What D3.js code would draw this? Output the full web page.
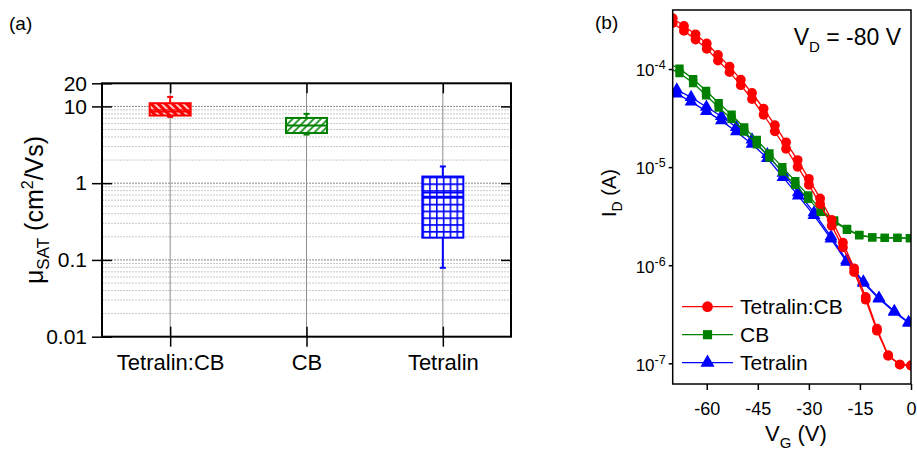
<!DOCTYPE html>
<html>
<head>
<meta charset="utf-8">
<script src="https://cdn.jsdelivr.net/npm/d3@7"></script>
<style>
  body { margin: 0; background: #fff; }
  svg { font-family: "Liberation Sans", Arial, sans-serif; }
</style>
</head>
<body>
<script>
// panel (a): mobility box chart
var groups = ['Tetralin:CB', 'CB', 'Tetralin'];
var groupColors = ['#ff0000', '#008000', '#0000ff'];
var boxLow = [7.6, 4.5, 0.195];
var boxHigh = [11, 7.07, 1.22];
var whiskerLow = [7.3, 4.3, 0.079];
var whiskerHigh = [13.3, 8.0, 1.65];
var medians = [8.5, 5.7, 0.75];
var means = [9.0, 5.6, 0.67];
var muTicks = [0.01, 0.1, 1, 10, 20];
var muTickLabels = ['0.01', '0.1', '1', '10', '20'];

// panel (b): transfer curves (two sweeps each)
var vgRed = [-70, -66.7, -63.3, -60, -56.7, -53.3, -50, -46.7, -43.3, -40, -36.7, -33.3, -30, -26.7, -23.3, -20, -16.7, -13.3, -10, -6.7, -3.3, 0];
var idRedA = [2.95e-4, 2.45e-4, 2.0e-4, 1.61e-4, 1.22e-4, 9.3e-5, 6.85e-5, 4.95e-5, 3.42e-5, 2.32e-5, 1.54e-5, 1.01e-5, 6.6e-6, 4.2e-6, 2.53e-6, 1.52e-6, 8.5e-7, 4.45e-7, 2.15e-7, 1.19e-7, 9.7e-8, 9.5e-8];
var idRedB = [3.3e-4, 2.75e-4, 2.26e-4, 1.82e-4, 1.39e-4, 1.06e-4, 7.8e-5, 5.7e-5, 3.95e-5, 2.68e-5, 1.79e-5, 1.18e-5, 7.6e-6, 4.8e-6, 2.9e-6, 1.7e-6, 9.3e-7, 4.75e-7, 2.25e-7, 1.21e-7, 9.7e-8, 9.5e-8];
var vgCB = [-71.7, -68, -64, -60.2, -56.5, -52.7, -49, -45.3, -41.6, -37.8, -34, -30.2, -26.5, -22.6, -18.8, -15.2, -11.4, -7.7, -4, -0.3];
var idCBA = [1.05e-4, 9.1e-5, 7.2e-5, 5.4e-5, 4.05e-5, 3.1e-5, 2.3e-5, 1.71e-5, 1.25e-5, 9.0e-6, 6.6e-6, 4.75e-6, 3.5e-6, 2.78e-6, 2.3e-6, 2.02e-6, 1.92e-6, 1.9e-6, 1.9e-6, 1.89e-6];
var idCBB = [1.16e-4, 1.01e-4, 7.9e-5, 6.0e-5, 4.5e-5, 3.42e-5, 2.54e-5, 1.89e-5, 1.38e-5, 1.0e-5, 7.2e-6, 5.15e-6, 3.7e-6, 2.86e-6, 2.34e-6, 2.04e-6, 1.92e-6, 1.9e-6, 1.9e-6, 1.89e-6];
var vgTet = [-68.8, -64.6, -60.1, -55.7, -51.3, -46.7, -42.2, -37.6, -33.1, -28.5, -23.5, -18.9, -14, -9.4, -4.9, -0.7];
var idTetA = [5.6e-5, 4.65e-5, 3.7e-5, 2.98e-5, 2.3e-5, 1.72e-5, 1.23e-5, 7.9e-6, 5.1e-6, 3.22e-6, 1.86e-6, 1.08e-6, 6.6e-7, 4.55e-7, 3.33e-7, 2.58e-7];
var idTetB = [6.15e-5, 5.15e-5, 4.1e-5, 3.3e-5, 2.55e-5, 1.9e-5, 1.35e-5, 8.7e-6, 5.5e-6, 3.44e-6, 1.96e-6, 1.12e-6, 6.8e-7, 4.65e-7, 3.4e-7, 2.62e-7];
var vgTicks = [-60, -45, -30, -15, 0];
var idTicks = [1e-7, 1e-6, 1e-5, 1e-4];
var idTickExp = ['-7', '-6', '-5', '-4'];
var legendNames = ['Tetralin:CB', 'CB', 'Tetralin'];

var svg = d3.select('body').append('svg').attr('width', 917).attr('height', 453);
var defs = svg.append('defs');

// ---------- panel (a) ----------
var A = { left: 102, right: 511, top: 83.3, bottom: 336.7 };
var xa = d3.scalePoint().domain(groups).range([A.left, A.right]).padding(0.5);
var ya = d3.scaleLog().domain([0.01, 20]).range([A.bottom, A.top]);
var boxW = 41;

// fill patterns
var pRed = defs.append('pattern').attr('id', 'hatchRed')
  .attr('patternUnits', 'userSpaceOnUse').attr('width', 5).attr('height', 5)
  .attr('patternTransform', 'rotate(-45)');
pRed.append('rect').attr('width', 5).attr('height', 5).attr('fill', '#ff0000');
pRed.append('line').attr('x1', 1).attr('x2', 1).attr('y1', 0).attr('y2', 5)
  .attr('stroke', '#fff').attr('stroke-width', 1.6);

var pGreen = defs.append('pattern').attr('id', 'hatchGreen')
  .attr('patternUnits', 'userSpaceOnUse').attr('width', 5).attr('height', 5)
  .attr('patternTransform', 'rotate(45)');
pGreen.append('rect').attr('width', 5).attr('height', 5).attr('fill', '#fff');
pGreen.append('line').attr('x1', 1).attr('x2', 1).attr('y1', 0).attr('y2', 5)
  .attr('stroke', '#008000').attr('stroke-width', 1.6);

var gridX0 = xa('Tetralin') - boxW / 2;
var gridY0 = ya(boxHigh[2]);
var pBlue = defs.append('pattern').attr('id', 'gridBlue')
  .attr('patternUnits', 'userSpaceOnUse').attr('width', 6.83).attr('height', 6.8)
  .attr('x', gridX0).attr('y', gridY0);
pBlue.append('rect').attr('width', 6.83).attr('height', 6.8).attr('fill', '#fff');
pBlue.append('path').attr('d', 'M0,0V6.8M0,0H6.83').attr('stroke', '#0000ff').attr('stroke-width', 3.2).attr('fill', 'none');
var fills = ['url(#hatchRed)', 'url(#hatchGreen)', 'url(#gridBlue)'];

var ga = svg.append('g');

// horizontal dotted grid
ga.selectAll('line.grid').data(ya.ticks().filter(d => d > 0.01 && d < 20))
  .enter().append('line').attr('class', 'grid')
    .attr('x1', A.left).attr('x2', A.right)
    .attr('y1', d => ya(d)).attr('y2', d => ya(d))
    .attr('stroke', d => Number.isInteger(Math.round(Math.log10(d) * 1000) / 1000) ? '#8a8a8a' : '#c8c8c8')
    .attr('stroke-width', 1)
    .attr('stroke-dasharray', '2,1');

// vertical category lines
ga.selectAll('line.vcat').data(groups).enter().append('line').attr('class', 'vcat')
  .attr('x1', d => xa(d)).attr('x2', d => xa(d))
  .attr('y1', A.top).attr('y2', A.bottom)
  .attr('stroke', '#8c8c8c').attr('stroke-width', 1);

// boxes
groups.forEach((g, i) => {
  var cx = xa(g), c = groupColors[i];
  ga.append('line').attr('x1', cx).attr('x2', cx)
    .attr('y1', ya(whiskerHigh[i])).attr('y2', ya(whiskerLow[i]))
    .attr('stroke', c).attr('stroke-width', 2);
  [whiskerHigh[i], whiskerLow[i]].forEach(v => {
    ga.append('line').attr('x1', cx - 3).attr('x2', cx + 3)
      .attr('y1', ya(v)).attr('y2', ya(v))
      .attr('stroke', c).attr('stroke-width', 2);
  });
  ga.append('rect')
    .attr('x', cx - boxW / 2).attr('width', boxW)
    .attr('y', ya(boxHigh[i])).attr('height', ya(boxLow[i]) - ya(boxHigh[i]))
    .attr('fill', fills[i]).attr('stroke', c).attr('stroke-width', 2);
  [medians[i], means[i]].forEach(v => {
    ga.append('line').attr('x1', cx - boxW / 2).attr('x2', cx + boxW / 2)
      .attr('y1', ya(v)).attr('y2', ya(v))
      .attr('stroke', c).attr('stroke-width', 1.5);
  });
});

// axes (a)
var leftA = ga.append('g').attr('transform', 'translate(' + A.left + ',0)')
  .call(d3.axisLeft(ya).tickValues(muTicks).tickFormat((d, i) => muTickLabels[i]).tickSize(10).tickPadding(5));
leftA.selectAll('.tick line').attr('x1', 10).attr('stroke-width', 1.5);
leftA.selectAll('.tick text').attr('font-size', 21).attr('fill', '#000');
leftA.select('.domain').remove();

var rightA = ga.append('g').attr('transform', 'translate(' + A.right + ',0)')
  .call(d3.axisRight(ya).tickValues([0.1, 1, 10]).tickFormat('').tickSize(-10));
rightA.selectAll('.tick line').attr('stroke-width', 1.5);
rightA.select('.domain').remove();

var topA = ga.append('g').attr('transform', 'translate(0,' + A.top + ')')
  .call(d3.axisTop(xa).tickFormat('').tickSize(-10));
topA.selectAll('.tick line').attr('stroke-width', 1.5);
topA.select('.domain').remove();

var botA = ga.append('g').attr('transform', 'translate(0,' + A.bottom + ')')
  .call(d3.axisBottom(xa).tickSize(10).tickPadding(8));
botA.selectAll('.tick line').attr('y1', -10).attr('stroke-width', 1.5);
botA.selectAll('.tick text').attr('font-size', 22).attr('fill', '#000');
botA.select('.domain').remove();

ga.append('rect').attr('x', A.left).attr('y', A.top)
  .attr('width', A.right - A.left).attr('height', A.bottom - A.top)
  .attr('fill', 'none').attr('stroke', '#000').attr('stroke-width', 2);

var yLabA = ga.append('text')
  .attr('transform', 'translate(43,' + (A.top + A.bottom) / 2 + ') rotate(-90)')
  .attr('text-anchor', 'middle').attr('font-size', 25).attr('fill', '#000');
yLabA.append('tspan').text('\u03bc');
yLabA.append('tspan').attr('font-size', 17).attr('dy', 6).text('SAT');
yLabA.append('tspan').attr('dy', -6).text(' (cm');
yLabA.append('tspan').attr('font-size', 16).attr('dy', -10).text('2');
yLabA.append('tspan').attr('dy', 10).text('/Vs)');

svg.append('text').attr('x', 9).attr('y', 30).attr('font-size', 19).text('(a)');

// ---------- panel (b) ----------
var B = { left: 672.7, right: 911, top: 10, bottom: 384 };
var xb = d3.scaleLinear().domain([-70, 0]).range([B.left, B.right]);
var yb = d3.scaleLog().domain([6.15e-8, 4e-4]).range([B.bottom, B.top]);

defs.append('clipPath').attr('id', 'clipB').append('rect')
  .attr('x', B.left).attr('y', B.top).attr('width', B.right - B.left).attr('height', B.bottom - B.top);

var gb = svg.append('g');
var plotB = gb.append('g').attr('clip-path', 'url(#clipB)');
var line = d3.line().x(d => xb(d[0])).y(d => yb(d[1]));

var series = [
  { vg: vgTet, sweeps: [idTetA, idTetB], color: '#0000ff', symbol: d3.symbolTriangle, size: 72 },
  { vg: vgCB, sweeps: [idCBA, idCBB], color: '#008000', symbol: d3.symbolSquare, size: 70 },
  { vg: vgRed, sweeps: [idRedA, idRedB], color: '#ff0000', symbol: d3.symbolCircle, size: 76 }
];

series.forEach(s => {
  s.sweeps.forEach(ids => {
    var pts = s.vg.map((v, i) => [v, ids[i]]);
    plotB.append('path').datum(pts).attr('d', line)
      .attr('fill', 'none').attr('stroke', s.color).attr('stroke-width', 1.3);
    plotB.selectAll(null).data(pts).enter().append('path')
      .attr('d', d3.symbol().type(s.symbol).size(s.size))
      .attr('transform', d => 'translate(' + xb(d[0]) + ',' + yb(d[1]) + ')')
      .attr('fill', s.color);
  });
});

var botB = gb.append('g').attr('transform', 'translate(0,' + B.bottom + ')')
  .call(d3.axisBottom(xb).tickValues(vgTicks).tickFormat(d => String(d)).tickSize(6).tickPadding(12));
botB.selectAll('.tick line').attr('stroke-width', 1.5);
botB.selectAll('.tick text').attr('font-size', 18).attr('fill', '#000');
botB.select('.domain').remove();

var leftB = gb.append('g').attr('transform', 'translate(' + B.left + ',0)')
  .call(d3.axisLeft(yb).tickValues(idTicks).tickFormat('').tickSize(4).tickPadding(3));
leftB.selectAll('.tick line').attr('stroke-width', 1.5);
leftB.select('.domain').remove();
leftB.selectAll('.tick text').each(function (d, i) {
  var t = d3.select(this).attr('fill', '#000').attr('font-size', 17).attr('dy', '0.4em');
  t.append('tspan').text('10');
  t.append('tspan').attr('font-size', 12.5).attr('dy', -7).text(idTickExp[i]);
});

gb.append('rect').attr('x', B.left).attr('y', B.top)
  .attr('width', B.right - B.left).attr('height', B.bottom - B.top)
  .attr('fill', 'none').attr('stroke', '#000').attr('stroke-width', 1.5);

var yLabB = gb.append('text')
  .attr('transform', 'translate(616,193) rotate(-90)')
  .attr('text-anchor', 'middle').attr('font-size', 20).attr('fill', '#000');
yLabB.append('tspan').text('I');
yLabB.append('tspan').attr('font-size', 14).attr('dy', 6).text('D');
yLabB.append('tspan').attr('dy', -6).text(' (A)');

var xLabB = gb.append('text')
  .attr('x', (B.left + B.right) / 2 + 4).attr('y', 441)
  .attr('text-anchor', 'middle').attr('font-size', 22).attr('fill', '#000');
xLabB.append('tspan').text('V');
xLabB.append('tspan').attr('font-size', 15).attr('dy', 7).text('G');
xLabB.append('tspan').attr('dy', -7).text(' (V)');

var vd = gb.append('text').attr('x', 901).attr('y', 45)
  .attr('text-anchor', 'end').attr('font-size', 23).attr('fill', '#000');
vd.append('tspan').text('V');
vd.append('tspan').attr('font-size', 15).attr('dy', 7).text('D');
vd.append('tspan').attr('dy', -7).text(' = -80 V');

// legend
var legend = gb.append('g');
var legendRows = [series[2], series[1], series[0]];
legendRows.forEach((s, i) => {
  var ly = 306.7 + i * 28;
  legend.append('line').attr('x1', 682).attr('x2', 733).attr('y1', ly).attr('y2', ly)
    .attr('stroke', s.color).attr('stroke-width', 1.3);
  legend.append('path').attr('d', d3.symbol().type(s.symbol).size(s.size * 1.2))
    .attr('transform', 'translate(707.5,' + ly + ')').attr('fill', s.color);
  legend.append('text').attr('x', 740).attr('y', ly).attr('dy', '0.35em')
    .attr('font-size', 21).attr('fill', '#000').text(legendNames[i]);
});

svg.append('text').attr('x', 595).attr('y', 29).attr('font-size', 19).text('(b)');
</script>
</body>
</html>
